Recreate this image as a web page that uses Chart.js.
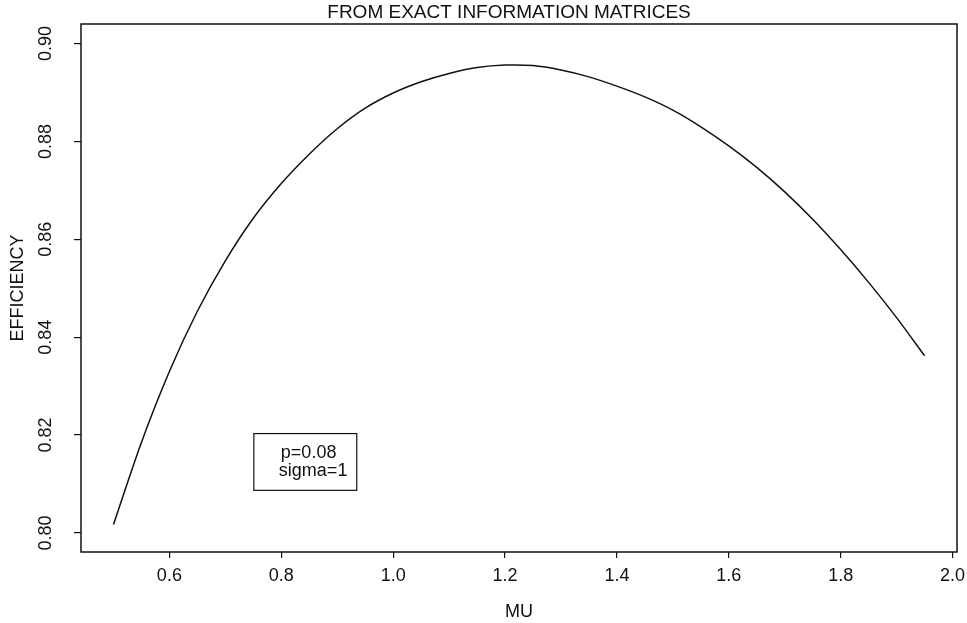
<!DOCTYPE html>
<html>
<head>
<meta charset="utf-8">
<script src="https://cdn.jsdelivr.net/npm/chart.js@4"></script>
<style>
  body { margin: 0; background: #fff; }
</style>
</head>
<body>
<canvas id="graph" width="967" height="623"></canvas>
<script>
// données
var mu = [0.50, 0.55, 0.60, 0.65, 0.70, 0.75, 0.80, 0.85, 0.90, 0.95,
          1.00, 1.05, 1.10, 1.15, 1.20, 1.25, 1.30, 1.35, 1.40, 1.45,
          1.50, 1.55, 1.60, 1.65, 1.70, 1.75, 1.80, 1.85, 1.90, 1.95];
var efficiency = [0.8017, 0.8185, 0.8330, 0.8453, 0.8556, 0.8643, 0.8714, 0.8774, 0.8826, 0.8868,
                  0.8899, 0.8922, 0.8939, 0.8951, 0.8956, 0.8955, 0.8946, 0.8932, 0.8913, 0.8891,
                  0.8864, 0.8830, 0.8791, 0.8747, 0.8697, 0.8641, 0.8579, 0.8512, 0.8440, 0.8362];
var xTicks = [0.6, 0.8, 1.0, 1.2, 1.4, 1.6, 1.8, 2.0];
var yTicks = [0.80, 0.82, 0.84, 0.86, 0.88, 0.90];
var legendLines = ["p=0.08", "sigma=1"];
var titleText = "FROM EXACT INFORMATION MATRICES";

var police = "'Liberation Sans', Arial, Helvetica, sans-serif";

var points = [];
for (let i = 0; i < mu.length; i++) {
    points.push({ x: mu[i], y: efficiency[i] });
}

// cadre, titre, étiquettes verticales et encadré
var decor = {
    id: 'decor',
    afterDraw: function (chart) {
        var ctx = chart.ctx;
        var a = chart.chartArea;
        var sy = chart.scales.y;
        var sx = chart.scales.x;
        ctx.save();
        ctx.strokeStyle = '#111';
        ctx.lineWidth = 1.5;
        ctx.strokeRect(a.left, a.top, a.right - a.left, a.bottom - a.top);

        // titre
        ctx.fillStyle = '#111';
        ctx.font = "19px " + police;
        ctx.textAlign = 'center';
        ctx.textBaseline = 'middle';
        ctx.fillText(titleText, (a.left + a.right) / 2 - 10, 13);

        // étiquettes y tournées
        ctx.font = "18px " + police;
        for (let t of yTicks) {
            var py = sy.getPixelForValue(t);
            ctx.save();
            ctx.translate(46, py);
            ctx.rotate(-Math.PI / 2);
            ctx.fillText(t.toFixed(2), 0, 0);
            ctx.restore();
        }

        // encadré
        var bx1 = sx.getPixelForValue(0.751);
        var bx2 = sx.getPixelForValue(0.935);
        var by1 = sy.getPixelForValue(0.8203);
        var by2 = sy.getPixelForValue(0.8087);
        ctx.lineWidth = 1.2;
        ctx.strokeRect(bx1, by1, bx2 - bx1, by2 - by1);
        ctx.textAlign = 'left';
        ctx.fillText(legendLines[0], bx1 + 27, by1 + 19);
        ctx.fillText(legendLines[1], bx1 + 25, by1 + 37);
        ctx.restore();
    }
};

var graph = new Chart(document.getElementById('graph').getContext('2d'), {
    type: 'scatter',
    data: {
        datasets: [{
            data: points,
            showLine: true,
            borderColor: '#111',
            borderWidth: 1.5,
            pointRadius: 0,
            tension: 0.3
        }]
    },
    options: {
        responsive: false,
        animation: false,
        layout: { padding: { left: 0, right: 10, top: 24, bottom: 0 } },
        plugins: {
            legend: { display: false },
            tooltip: { enabled: false }
        },
        scales: {
            x: {
                type: 'linear',
                min: 0.442,
                max: 2.008,
                afterFit: function (s) { s.height = 71; s.paddingLeft = 0; s.paddingRight = 0; },
                afterBuildTicks: function (s) { s.ticks = xTicks.map(v => ({ value: v })); },
                border: { display: false },
                grid: { drawOnChartArea: false, drawTicks: true, tickLength: 6, color: '#111', lineWidth: 1.2 },
                ticks: {
                    color: '#111',
                    font: { family: police, size: 18 },
                    padding: 7,
                    maxRotation: 0,
                    callback: v => v.toFixed(1)
                },
                title: {
                    display: true,
                    text: 'MU',
                    color: '#111',
                    font: { family: police, size: 18 },
                    padding: { top: 0, bottom: 0 }
                }
            },
            y: {
                type: 'linear',
                min: 0.7961,
                max: 0.904,
                afterFit: function (s) { s.width = 81; s.paddingTop = 0; s.paddingBottom = 0; },
                afterBuildTicks: function (s) { s.ticks = yTicks.map(v => ({ value: v })); },
                border: { display: false },
                grid: { drawOnChartArea: false, drawTicks: true, tickLength: 7, color: '#111', lineWidth: 1.2 },
                ticks: { display: false },
                title: {
                    display: true,
                    text: 'EFFICIENCY',
                    color: '#111',
                    font: { family: police, size: 18 },
                    padding: { top: 7, bottom: 0 }
                }
            }
        }
    },
    plugins: [decor]
});
</script>
</body>
</html>
